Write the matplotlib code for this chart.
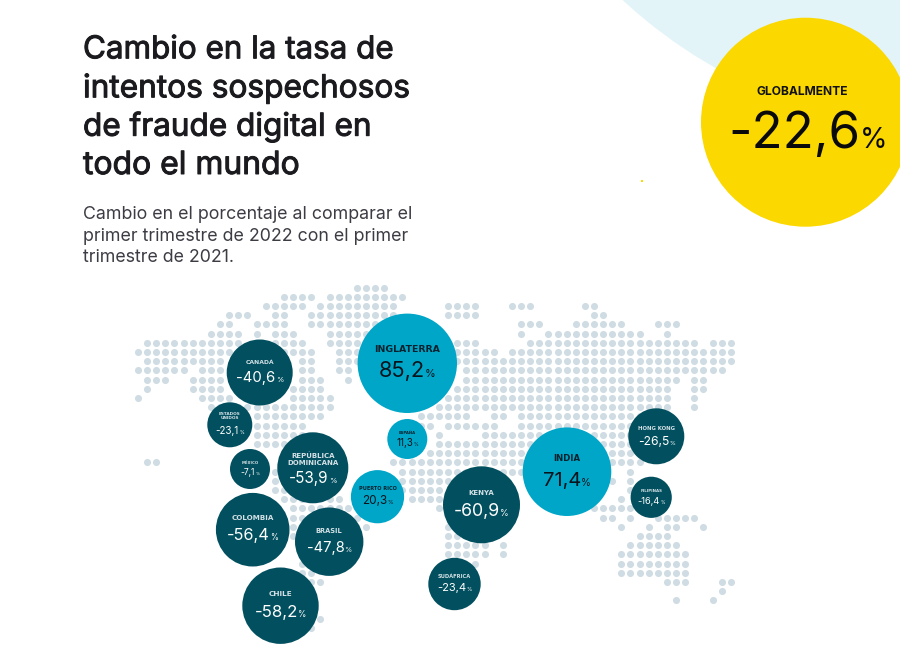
import matplotlib
matplotlib.use("Agg")
import matplotlib.pyplot as plt
import matplotlib.patheffects as pe
from matplotlib.patches import Circle, Rectangle

# ---------- data ----------
countries = ["INGLATERRA", "CANADÁ", "ESTADOS\nUNIDOS", "ESPAÑA", "MÉXICO",
             "REPÚBLICA\nDOMINICANA", "PUERTO RICO", "COLOMBIA", "BRASIL", "CHILE",
             "KENYA", "SUDÁFRICA", "INDIA", "HONG KONG", "FILIPINAS"]
changes = ["85,2", "-40,6", "-23,1", "11,3", "-7,1",
           "-53,9", "20,3", "-56,4", "-47,8", "-58,2",
           "-60,9", "-23,4", "71,4", "-26,5", "-16,4"]
center_x = [407.3, 259.7, 229.8, 407.3, 250, 312.8, 377.5, 252.7, 329.2, 280.5, 481.5, 454.5, 567, 656.3, 651.2]
center_y = [363.3, 372.5, 424.8, 439, 469, 467.8, 496.7, 529.7, 541.7, 605.7, 504.8, 584, 471.7, 436.3, 497.3]
radius = [49.7, 33, 22.5, 20, 20, 35.5, 26.6, 36.8, 34.2, 38.2, 38.5, 26.2, 44.3, 28, 20.6]
label_y = [349, 362, 416, 432.7, 463, 459, 489, 518.3, 531.3, 594, 493.3, 576, 458.3, 428, 491]
value_y = [369, 376.7, 430.7, 442, 471.7, 478, 500, 534.3, 546.3, 610.7, 510, 587.3, 478.3, 440.3, 500.3]
value_w = [57, 46.7, 28, 21.7, 18.7, 47, 31, 50.7, 44.7, 51.7, 55, 34.7, 48.3, 37.3, 27]
label_w = [66, 29, 22, 17, 17, 51, 38, 42, 27, 24, 26, 33, 27, 37, 22]

title_lines = ["Cambio en la tasa de", "intentos sospechosos", "de fraude digital en", "todo el mundo"]
subtitle_lines = ["Cambio en el porcentaje al comparar el",
                  "primer trimestre de 2022 con el primer",
                  "trimestre de 2021."]
global_label = "GLOBALMENTE"
global_value = "-22,6"

# dotted world map: row number -> runs of occupied columns
map_rows = {
    -1: [(24, 27)],
    0: [(16, 19), (21, 29)],
    1: [(14, 18), (20, 28), (34, 37), (41, 43), (49, 50)],
    2: [(10, 12), (15, 16), (19, 28), (34, 37), (50, 51)],
    3: [(9, 10), (13, 16), (19, 27), (42, 44), (48, 53), (57, 59)],
    4: [(8, 11), (13, 13), (15, 17), (21, 26), (42, 42), (45, 55), (58, 58)],
    5: [(1, 11), (15, 18), (21, 24), (35, 37), (43, 61), (63, 65)],
    6: [(0, 19), (22, 24), (35, 39), (41, 65)],
    7: [(1, 9), (18, 19), (22, 24), (35, 65)],
    8: [(0, 5), (7, 9), (18, 19), (22, 23), (36, 64)],
    9: [(1, 3), (6, 9), (18, 20), (23, 23), (36, 59), (61, 62)],
    10: [(1, 1), (6, 9), (17, 20), (35, 58), (61, 62)],
    11: [(0, 0), (7, 10), (17, 21), (34, 58), (61, 61)],
    12: [(8, 21), (33, 58), (61, 61)],
    13: [(13, 20), (31, 36), (39, 40), (42, 55)],
    14: [(13, 18), (31, 32), (34, 39), (42, 55)],
    15: [(13, 18), (33, 33), (38, 55)],
    16: [(13, 18), (33, 55)],
    17: [(32, 55)],
    18: [(1, 2), (28, 55)],
    19: [(15, 15), (29, 42), (54, 54)],
    20: [(15, 15), (29, 34), (52, 52), (54, 54)],
    21: [(15, 16), (29, 33), (54, 54)],
    22: [(16, 22), (30, 33), (53, 53)],
    23: [(17, 23), (33, 33), (50, 54)],
    24: [(17, 24), (51, 52), (54, 54), (57, 61)],
    25: [(17, 17), (25, 25), (34, 34), (53, 53), (56, 56), (58, 59), (62, 62)],
    26: [(17, 17), (34, 38), (55, 58)],
    27: [(34, 38), (40, 40), (54, 59)],
    28: [(34, 38), (40, 40), (53, 60)],
    29: [(18, 19), (37, 37), (53, 60)],
    30: [(18, 19), (53, 60)],
    31: [(19, 20), (58, 60), (64, 65)],
    32: [(64, 64)],
    33: [(59, 59), (63, 63)],
    35: [(20, 20)],
    36: [(19, 19)],
}

DARK = "#02505F"
CYAN = "#00A6C8"
YELLOW = "#FBD800"
PALE = "#E3F4F8"
DOT = "#CFDCE4"
SANS = "Inter"

fig = plt.figure(figsize=(9, 6.71), dpi=100)
ax = fig.add_axes([0, 0, 1, 1])
ax.set_xlim(0, 900)
ax.set_ylim(671, 0)
ax.axis("off")

# background shapes
ax.add_patch(Circle((962, -367), 500, fc=PALE, ec="none", zorder=1))
ax.add_patch(Circle((805.5, 122.2), 104.5, fc=YELLOW, ec="none", zorder=2))
ax.add_patch(Rectangle((640.5, 179.5), 2, 2.5, fc=YELLOW, ec="none", zorder=2))

# map dots
xs, ys = [], []
for row, runs in map_rows.items():
    for a, b in runs:
        for col in range(a, b + 1):
            xs.append(138 + 9.12 * col)
            ys.append(296.7 + 9.2 * row)
ax.scatter(xs, ys, s=26, c=DOT, linewidths=0, zorder=3)

renderer = fig.canvas.get_renderer()


def fit(text, target):
    w = text.get_window_extent(renderer).width
    text.set_fontsize(text.get_fontsize() * target / w)


def value_text(x, y, s, width, color, z=6, ratio=0.5):
    a = ax.text(x, y, s, ha="left", va="baseline", color=color, family=SANS,
                fontsize=20, zorder=z)
    b = ax.text(x, y, "%", ha="left", va="baseline", color=color, family=SANS,
                fontsize=20 * ratio, zorder=z)
    wa = a.get_window_extent(renderer).width
    wb = b.get_window_extent(renderer).width
    k = width / (wa + wb)
    a.set_fontsize(20 * k)
    b.set_fontsize(20 * ratio * k)
    left = x - width / 2
    a.set_x(left)
    b.set_x(left + wa * k)
    # digits are about 0.72 em tall, centred on y (fontsize in pt -> px)
    base = y + 0.36 * 20 * k * 100 / 72
    a.set_y(base)
    b.set_y(base)


# bubbles
for name, val, cx, cy, r, ly, vy, vw, lw in zip(countries, changes, center_x, center_y,
                                                radius, label_y, value_y, value_w, label_w):
    positive = not val.startswith("-")
    ax.add_patch(Circle((cx, cy), r, fc=CYAN if positive else DARK, ec="none", zorder=4))
    lab_color = "#07222E" if positive else "#D3E0E5"
    num_color = "#07141C" if positive else "#FFFFFF"
    t = ax.text(cx, ly, name, ha="center", va="center", color=lab_color, family="DejaVu Sans",
                fontweight="bold", fontsize=7, linespacing=1.15, zorder=6)
    fit(t, lw)
    value_text(cx, vy, val, vw, num_color)

# global bubble
t = ax.text(802, 92.3, global_label, ha="center", va="center", color="#111111", family=SANS,
            fontweight="bold", fontsize=8, zorder=6)
fit(t, 92)
value_text(808, 130, global_value, 160, "#0A0A0A", ratio=0.55)

# title and subtitle
title_w = [311, 327, 289, 217]
for line, y, w in zip(title_lines, [58.3, 97.3, 135.7, 174], title_w):
    t = ax.text(83, y, line, ha="left", va="baseline", color="#1B1B1F", family=SANS,
                fontsize=21, zorder=6,
                path_effects=[pe.withStroke(linewidth=0.7, foreground="#1B1B1F")])
    fit(t, w)
for line, y, w in zip(subtitle_lines, [219.3, 240.7, 261.7], [330, 326, 152]):
    t = ax.text(83, y, line, ha="left", va="baseline", color="#3C3C44", family=SANS,
                fontsize=12, zorder=6)
    fit(t, w)

fig.savefig("out.png", dpi=100, facecolor="white")
